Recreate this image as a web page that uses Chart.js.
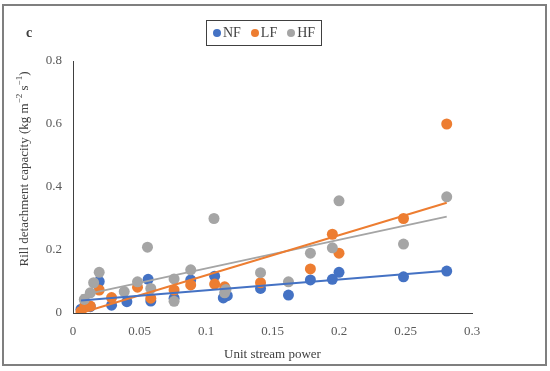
<!DOCTYPE html>
<html>
<head>
<meta charset="utf-8">
<script src="https://cdn.jsdelivr.net/npm/chart.js@4/dist/chart.umd.min.js"></script>
<style>
  html, body { margin: 0; padding: 0; background: #fff; }
  #wrap { position: relative; width: 550px; height: 371px; overflow: hidden; }
  #frame { position: absolute; left: 2px; top: 4px; width: 541px; height: 358px; border: 2px solid #7f7f7f; }
  #chart { position: absolute; left: 0; top: 0; }
  #panel { position: absolute; left: 26px; top: 25px; font: bold 14px "Liberation Serif", serif; color: #404040; }
  #legend { position: absolute; left: 206px; top: 20px; width: 114px; height: 24px; border: 1px solid #404040;
            display: flex; align-items: center; justify-content: center; gap: 10px;
            font: 14px "Liberation Serif", serif; color: #404040; }
  #legend span { display: flex; align-items: center; }
  #legend i { display: inline-block; width: 8px; height: 8px; border-radius: 50%; margin-right: 2px; }
  #ytitle { position: absolute; left: 23px; top: 169px; transform: translate(-50%, -50%) rotate(-90deg);
            white-space: nowrap; font: 13px "Liberation Serif", serif; color: #404040; }
</style>
</head>
<body>
<div id="wrap">
  <canvas id="chart" width="550" height="371"></canvas>
  <div id="frame"></div>
  <div id="panel">c</div>
  <div id="legend"></div>
  <div id="ytitle">Rill detachment capacity (kg m<sup style="font-size:9px">−2</sup> s<sup style="font-size:9px">−1</sup>)</div>
</div>
<script>
// unit stream power vs rill detachment capacity, three treatments
const nfX = [0.006, 0.013, 0.0197, 0.029, 0.0405, 0.0565, 0.0585, 0.076, 0.0885, 0.1065, 0.113, 0.116, 0.141, 0.162, 0.1785, 0.195, 0.200, 0.2485, 0.281];
const nfY = [0.012, 0.02, 0.10, 0.025, 0.036, 0.107, 0.038, 0.047, 0.105, 0.117, 0.048, 0.055, 0.078, 0.057, 0.105, 0.107, 0.129, 0.115, 0.133];

const lfX = [0.006, 0.009, 0.013, 0.0197, 0.029, 0.0485, 0.0585, 0.076, 0.0885, 0.1065, 0.114, 0.141, 0.1785, 0.195, 0.200, 0.2485, 0.281];
const lfY = [0.005, 0.025, 0.022, 0.073, 0.049, 0.082, 0.047, 0.073, 0.089, 0.092, 0.083, 0.096, 0.14, 0.25, 0.19, 0.30, 0.60];

const hfX = [0.0085, 0.013, 0.0155, 0.0197, 0.0385, 0.0485, 0.056, 0.0585, 0.076, 0.076, 0.0885, 0.106, 0.114, 0.115, 0.141, 0.162, 0.1785, 0.195, 0.200, 0.2485, 0.281];
const hfY = [0.043, 0.064, 0.096, 0.129, 0.068, 0.099, 0.209, 0.078, 0.108, 0.037, 0.137, 0.30, 0.064, 0.075, 0.128, 0.099, 0.19, 0.207, 0.356, 0.219, 0.369];

// linear trend end points
const trendX = [0.006, 0.281];
const nfTrend = [0.040, 0.134];
const lfTrend = [0.000, 0.350];
const hfTrend = [0.056, 0.306];

const names = ['NF', 'LF', 'HF'];
const colors = ['#4472C4', '#ED7D31', '#A5A5A5'];

const pts = (xs, ys) => xs.map((x, i) => ({ x: x, y: ys[i] }));

const seriesX = [nfX, lfX, hfX];
const seriesY = [nfY, lfY, hfY];
const trends = [nfTrend, lfTrend, hfTrend];

const datasets = [];
names.forEach((n, i) => {
    datasets.push({
        label: n,
        data: pts(seriesX[i], seriesY[i]),
        backgroundColor: colors[i],
        borderColor: colors[i],
        pointRadius: 5.5,
        pointBorderWidth: 0,
        showLine: false,
        order: 3 - i
    });
});
names.forEach((n, i) => {
    datasets.push({
        label: n + ' trend',
        data: pts(trendX, trends[i]),
        borderColor: colors[i],
        borderWidth: 2,
        pointRadius: 0,
        showLine: true,
        fill: false,
        order: 0
    });
});

const legend = document.getElementById('legend');
names.forEach((n, i) => {
    const s = document.createElement('span');
    s.innerHTML = '<i style="background:' + colors[i] + '"></i>' + n;
    legend.appendChild(s);
});

new Chart(document.getElementById('chart'), {
    type: 'scatter',
    data: { datasets: datasets },
    options: {
        responsive: false,
        animation: false,
        layout: { padding: { top: 61, right: 78, left: 0, bottom: 0 } },
        plugins: { legend: { display: false }, tooltip: { enabled: false } },
        scales: {
            x: {
                type: 'linear',
                min: 0, max: 0.3,
                grid: { display: false, drawTicks: false },
                border: { display: true, color: '#404040', width: 1 },
                ticks: { stepSize: 0.05, padding: 11, color: '#595959', font: { family: 'Liberation Serif', size: 13 },
                         callback: v => String(+v.toFixed(2)) },
                title: { display: true, text: 'Unit stream power', color: '#404040',
                         font: { family: 'Liberation Serif', size: 13 }, padding: { top: 6, bottom: 9 } },
                afterFit: s => { s.height = 58; }
            },
            y: {
                type: 'linear',
                min: 0, max: 0.8,
                grid: { display: false, drawTicks: false },
                border: { display: true, color: '#404040', width: 1 },
                ticks: { stepSize: 0.2, padding: 11, color: '#595959', font: { family: 'Liberation Serif', size: 13 },
                         callback: v => String(+v.toFixed(1)) },
                afterFit: s => { s.width = 73; }
            }
        }
    }
});
</script>
</body>
</html>
